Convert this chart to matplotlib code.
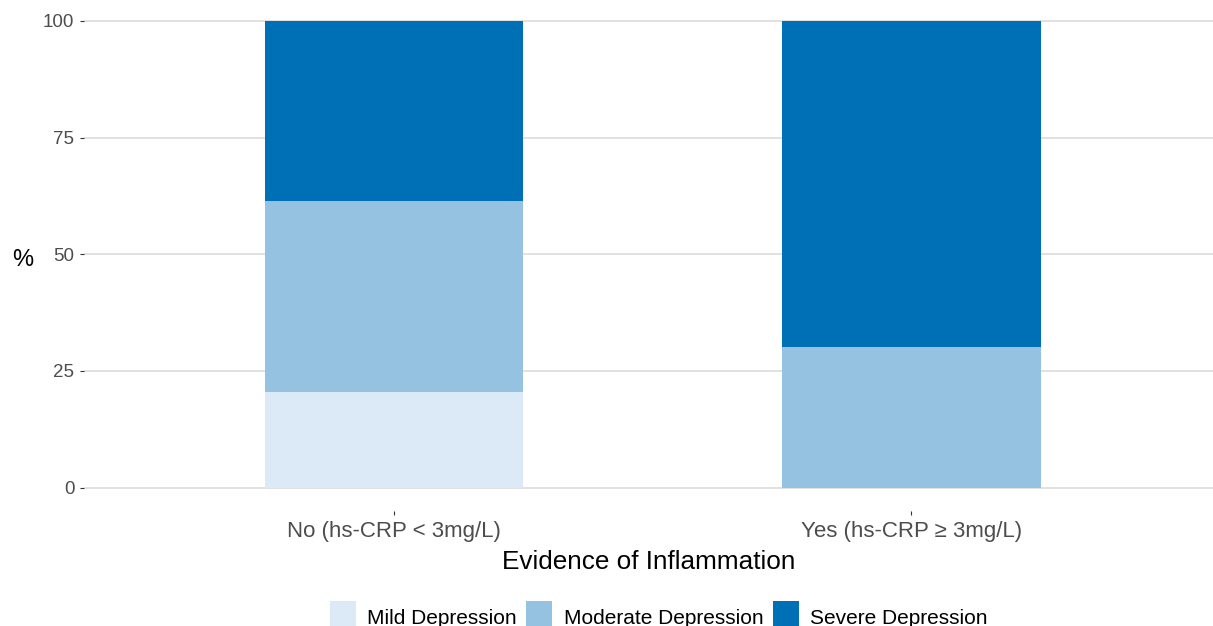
import matplotlib.pyplot as plt
from matplotlib.patches import Patch
import numpy as np

plt.rcParams['font.family'] = ['Liberation Sans', 'DejaVu Sans']

# data (percent of each group)
groups = ["No (hs-CRP < 3mg/L)", "Yes (hs-CRP \u2265 3mg/L)"]
mild = [20.5, 0.0]
moderate = [41.0, 30.2]
severe = [38.5, 69.8]
levels = ["Mild Depression", "Moderate Depression", "Severe Depression"]
colors = ["#DCE9F6", "#96C2E1", "#0070B6"]
y_ticks = [0, 25, 50, 75, 100]

fig = plt.figure(figsize=(12.13, 6.26), dpi=100)
ax = fig.add_axes([84 / 1213, 1 - 511 / 626, 1 - 84 / 1213, 513.4 / 626])

x = np.arange(1, len(groups) + 1)
bottom = np.zeros(len(groups))
for vals, col in zip([mild, moderate, severe], colors):
    ax.bar(x, vals, 0.5, bottom=bottom, color=col, zorder=2)
    bottom += np.array(vals)

ax.set_xlim(0.401, 2.583)
ax.set_ylim(-5, 105)
ax.set_yticks(y_ticks)
ax.set_xticks(x)
ax.set_xticklabels(groups)
ax.yaxis.grid(True, color="#D9D9D9", linewidth=1.1, zorder=0)
ax.set_axisbelow(True)
for s in ax.spines.values():
    s.set_visible(False)
ax.tick_params(axis="both", colors="#333333", length=3, width=0.8,
               labelcolor="#4D4D4D")
ax.tick_params(axis="y", pad=4, labelsize=13.5)
ax.tick_params(axis="x", pad=4, labelsize=16)

ax.set_xlabel("Evidence of Inflammation", fontsize=18.8, color="black", labelpad=6)
ax.set_ylabel("%", fontsize=17, color="black", rotation=0, va="center", ha="center")
ax.yaxis.set_label_coords(-0.054, 0.488)

# legend at the bottom, partly cut by the image edge like the original
handles = [Patch(facecolor=c, edgecolor="none") for c in colors]
fig.legend(handles, levels, loc="upper center", ncol=3, frameon=False,
           bbox_to_anchor=(0.543, 1 - 591 / 626), borderpad=0, fontsize=15,
           handlelength=1.25, handleheight=1.9, handletextpad=0.55,
           columnspacing=0.45)

fig.savefig("out.png", dpi=100)
